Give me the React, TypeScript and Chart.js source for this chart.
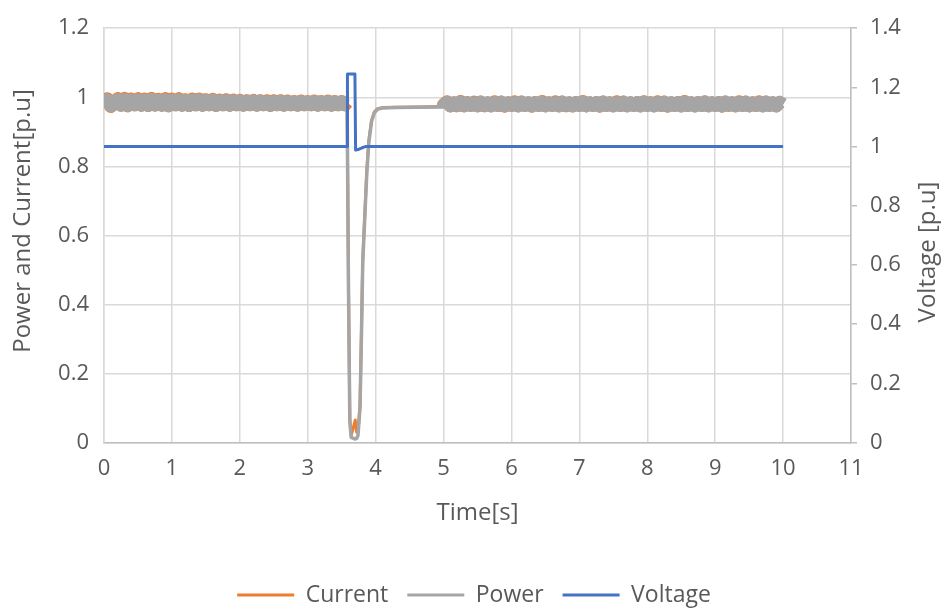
import React, { useEffect, useRef } from "react";
import { Chart, registerables } from "chart.js";

Chart.register(...registerables);

// ---- data ----
const sampleStep = 0.05;
const preFaultStart = 0;
const postFaultStart = 5;

const powerPreFault = [
  0.987, 0.993, 0.975, 0.982, 0.993, 0.977, 0.994, 0.976, 0.992, 0.978,
  0.993, 0.977, 0.992, 0.976, 0.994, 0.978, 0.991, 0.977, 0.993, 0.976,
  0.992, 0.978, 0.993, 0.977, 0.991, 0.976, 0.992, 0.978, 0.993, 0.977,
  0.991, 0.978, 0.992, 0.977, 0.99, 0.978, 0.991, 0.977, 0.99, 0.978,
  0.99, 0.977, 0.989, 0.978, 0.99, 0.977, 0.989, 0.978, 0.988, 0.977,
  0.988, 0.978, 0.989, 0.977, 0.988, 0.978, 0.987, 0.977, 0.988, 0.978,
  0.987, 0.978, 0.988, 0.977, 0.987, 0.978, 0.988, 0.977, 0.987, 0.978,
  0.987, 0.978,
];
const currentPreFault = [
  0.988, 0.996, 0.973, 0.982, 0.996, 0.977, 0.997, 0.975, 0.995, 0.978,
  0.996, 0.977, 0.995, 0.976, 0.997, 0.977, 0.994, 0.977, 0.996, 0.975,
  0.995, 0.978, 0.996, 0.977, 0.993, 0.976, 0.995, 0.978, 0.995, 0.977,
  0.993, 0.978, 0.994, 0.976, 0.992, 0.978, 0.993, 0.977, 0.992, 0.978,
  0.991, 0.977, 0.99, 0.978, 0.991, 0.977, 0.99, 0.978, 0.99, 0.976,
  0.99, 0.978, 0.99, 0.977, 0.989, 0.978, 0.988, 0.977, 0.989, 0.978,
  0.988, 0.978, 0.989, 0.977, 0.988, 0.978, 0.989, 0.977, 0.988, 0.978,
  0.988, 0.978,
];

const faultTime = [3.58, 3.6, 3.62, 3.64, 3.7, 3.72, 3.74, 3.77, 3.79, 3.81, 3.84, 3.87, 3.9, 3.94, 3.98, 4.03, 4.1, 4.3, 4.6, 5.0];
const powerFault = [0.98, 0.45, 0.06, 0.015, 0.01, 0.012, 0.02, 0.1, 0.3, 0.52, 0.65, 0.78, 0.87, 0.93, 0.955, 0.966, 0.969, 0.97, 0.971, 0.972];
const currentFault = [0.985, 0.46, 0.07, 0.02, 0.065, 0.03, 0.03, 0.11, 0.31, 0.53, 0.66, 0.79, 0.875, 0.933, 0.957, 0.967, 0.97, 0.971, 0.972, 0.973];

const powerPostFault = [
  0.978, 0.985, 0.975, 0.984, 0.976, 0.986, 0.975, 0.985, 0.976, 0.984,
  0.975, 0.986, 0.976, 0.984, 0.975, 0.985, 0.976, 0.986, 0.975, 0.984,
  0.976, 0.985, 0.975, 0.986, 0.976, 0.984, 0.975, 0.985, 0.976, 0.986,
  0.975, 0.984, 0.976, 0.985, 0.975, 0.986, 0.976, 0.984, 0.975, 0.985,
  0.976, 0.986, 0.975, 0.984, 0.976, 0.985, 0.975, 0.986, 0.976, 0.984,
  0.975, 0.985, 0.976, 0.986, 0.975, 0.984, 0.976, 0.985, 0.975, 0.986,
  0.976, 0.984, 0.975, 0.985, 0.976, 0.986, 0.975, 0.984, 0.976, 0.985,
  0.975, 0.986, 0.976, 0.984, 0.975, 0.985, 0.976, 0.986, 0.975, 0.984,
  0.976, 0.985, 0.975, 0.986, 0.976, 0.984, 0.975, 0.985, 0.976, 0.986,
  0.975, 0.984, 0.976, 0.985, 0.975, 0.986, 0.976, 0.984, 0.975, 0.985,
  0.979,
];
const currentPostFault = [
  0.978, 0.987, 0.975, 0.984, 0.975, 0.988, 0.975, 0.985, 0.976, 0.986,
  0.975, 0.986, 0.975, 0.984, 0.975, 0.987, 0.976, 0.986, 0.974, 0.984,
  0.976, 0.987, 0.975, 0.986, 0.976, 0.984, 0.974, 0.985, 0.976, 0.988,
  0.975, 0.984, 0.976, 0.987, 0.975, 0.986, 0.975, 0.984, 0.975, 0.985,
  0.976, 0.988, 0.975, 0.984, 0.976, 0.985, 0.974, 0.986, 0.976, 0.984,
  0.975, 0.987, 0.976, 0.986, 0.975, 0.984, 0.976, 0.985, 0.975, 0.987,
  0.976, 0.984, 0.975, 0.987, 0.976, 0.986, 0.974, 0.984, 0.976, 0.985,
  0.975, 0.988, 0.976, 0.984, 0.975, 0.985, 0.976, 0.987, 0.975, 0.984,
  0.976, 0.985, 0.974, 0.986, 0.976, 0.984, 0.975, 0.987, 0.976, 0.986,
  0.975, 0.984, 0.976, 0.987, 0.975, 0.986, 0.976, 0.984, 0.975, 0.985,
  0.979,
];

const voltageTime = [0, 3.58, 3.585, 3.695, 3.705, 3.74, 3.8, 3.85, 10];
const voltageValues = [1.0, 1.0, 1.245, 1.245, 0.988, 0.99, 0.996, 1.0, 1.0];

const xTicks = { min: 0, max: 11, step: 1 };
const leftTicks = { min: 0, max: 1.2, step: 0.2 };
const rightTicks = { min: 0, max: 1.4, step: 0.2 };

const seriesNames = ["Current", "Power", "Voltage"];
const seriesColors = ["#ED7D31", "#A5A5A5", "#4472C4"];
const titleLeft = "Power and Current[p.u]";
const titleRight = "Voltage [p.u]";
const titleX = "Time[s]";

function buildSeries(pre: number[], fault: number[], post: number[]) {
  const pts: { x: number; y: number }[] = [];
  pre.forEach((v, i) => pts.push({ x: preFaultStart + i * sampleStep, y: v }));
  fault.forEach((v, i) => pts.push({ x: faultTime[i], y: v }));
  post.forEach((v, i) => pts.push({ x: postFaultStart + i * sampleStep, y: v }));
  return pts;
}

const FONT = "'Open Sans', sans-serif";
const TEXT = "#595959";
const fmt = (v: any) => String(Number(Number(v).toFixed(1)));
const noisyWidth = (w: number, base: number) => (ctx: any) => {
  const x = ctx.p0.parsed.x;
  return x < faultTime[0] || x >= postFaultStart ? w : base;
};

const titlesPlugin = {
  id: "axisTitles",
  afterDraw(chart: any) {
    const ctx = chart.ctx;
    const area = chart.chartArea;
    ctx.save();
    ctx.fillStyle = TEXT;
    ctx.font = `24px ${FONT}`;
    ctx.textAlign = "center";
    ctx.textBaseline = "middle";
    ctx.save();
    ctx.translate(23, 221);
    ctx.rotate(-Math.PI / 2);
    ctx.fillText(titleLeft, 0, 0);
    ctx.restore();
    ctx.save();
    ctx.translate(928, 252);
    ctx.rotate(-Math.PI / 2);
    ctx.fillText(titleRight, 0, 0);
    ctx.restore();
    ctx.fillText(titleX, (area.left + area.right) / 2, 513);
    ctx.restore();
  },
};

export default function App() {
  const ref = useRef<HTMLCanvasElement>(null);
  useEffect(() => {
    if (!ref.current) return;
    const current = buildSeries(currentPreFault, currentFault, currentPostFault);
    const power = buildSeries(powerPreFault, powerFault, powerPostFault);
    const voltage = voltageTime.map((t, i) => ({ x: t, y: voltageValues[i] }));
    const common = { pointRadius: 0, borderJoinStyle: "round", borderCapStyle: "butt" };
    const chart = new Chart(ref.current, {
      type: "line",
      data: {
        datasets: [
          { ...common, label: seriesNames[0], data: current, borderColor: seriesColors[0], backgroundColor: seriesColors[0], borderWidth: 3, yAxisID: "y", order: 3, segment: { borderWidth: noisyWidth(13, 3) } },
          { ...common, label: seriesNames[1], data: power, borderColor: seriesColors[1], backgroundColor: seriesColors[1], borderWidth: 3.5, yAxisID: "y", order: 2, segment: { borderWidth: noisyWidth(13, 3.5) } },
          { ...common, label: seriesNames[2], data: voltage, borderColor: seriesColors[2], backgroundColor: seriesColors[2], borderWidth: 3, yAxisID: "y2", order: 1 },
        ],
      },
      options: {
        responsive: false,
        animation: false,
        devicePixelRatio: 1,
        layout: { padding: { top: 24, left: 0, right: 0, bottom: -6.5 } },
        plugins: {
          tooltip: { enabled: false },
          legend: {
            position: "bottom",
            labels: {
              color: TEXT,
              font: { family: FONT, size: 23 },
              boxWidth: 57,
              boxHeight: 3,
              padding: 19,
              sort: (a: any, b: any) => a.datasetIndex - b.datasetIndex,
              generateLabels: (c: any) =>
                Chart.defaults.plugins.legend.labels.generateLabels(c).map((l: any) => ({ ...l, lineWidth: 0 })),
            },
          },
        },
        scales: {
          x: {
            type: "linear",
            min: xTicks.min,
            max: xTicks.max,
            ticks: { stepSize: xTicks.step, color: TEXT, font: { family: FONT, size: 22 }, padding: 13, callback: fmt },
            grid: { color: "#d9d9d9", lineWidth: 1.5, drawTicks: false },
            border: { color: "#bfbfbf", width: 1.5 },
            afterFit: (s: any) => { s.height = 122; },
          },
          y: {
            position: "left",
            min: leftTicks.min,
            max: leftTicks.max,
            ticks: { stepSize: leftTicks.step, color: TEXT, font: { family: FONT, size: 22 }, padding: 15, callback: fmt },
            grid: { color: "#d9d9d9", lineWidth: 1.5, drawTicks: false },
            border: { color: "#d9d9d9", width: 1.5 },
            afterFit: (s: any) => { s.width = 104; },
          },
          y2: {
            position: "right",
            min: rightTicks.min,
            max: rightTicks.max,
            ticks: { stepSize: rightTicks.step, color: TEXT, font: { family: FONT, size: 22 }, padding: 13, callback: fmt },
            grid: { drawOnChartArea: false, color: "#bfbfbf", lineWidth: 1.5, tickLength: 6 },
            border: { color: "#bfbfbf", width: 1.5 },
            afterFit: (s: any) => { s.width = 97; },
          },
        },
      },
      plugins: [titlesPlugin],
    } as any);
    return () => chart.destroy();
  }, []);
  return (
    <div style={{ position: "absolute", left: 0, top: 0, width: 948, height: 610, background: "#fff" }}>
      <canvas ref={ref} width={948} height={610} />
    </div>
  );
}
